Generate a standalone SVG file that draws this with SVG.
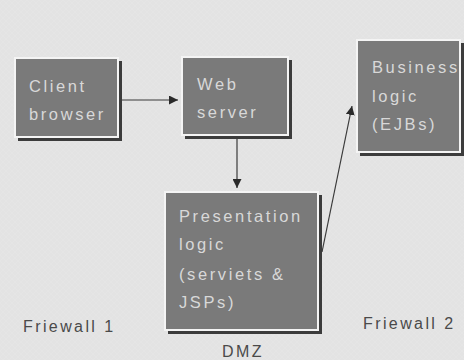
<svg xmlns="http://www.w3.org/2000/svg" width="464" height="360" viewBox="0 0 464 360">
<style>
.bg{fill:#e3e3e3}
.sh{fill:#3c3c3c}
.box{fill:#7a7a7a;stroke:#f4f4f4;stroke-width:2}
.bt{font-family:"Liberation Sans",Arial,sans-serif;font-size:16.5px;letter-spacing:2.6px;fill:#d8d8d8}
.lbl{font-family:"Liberation Sans",Arial,sans-serif;font-size:16px;letter-spacing:2.4px;fill:#4a4a4a}
.cn{stroke:#3a3a3a;stroke-width:1.2;fill:none}
</style>
<defs>
<marker id="ah" viewBox="0 0 10 10" refX="10" refY="5" markerWidth="9" markerHeight="9" markerUnits="userSpaceOnUse" orient="auto">
<path d="M0,0 L10,5 L0,10 z" fill="#2a2a2a"/>
</marker>
<pattern id="tex" width="6" height="6" patternUnits="userSpaceOnUse">
<path d="M0,3 L3,0 L6,3 L3,6 z" fill="none" stroke="#ffffff" stroke-opacity="0.07" stroke-width="1"/>
</pattern>
</defs>
<rect class="bg" x="0" y="0" width="464" height="360"/>
<rect x="0" y="0" width="464" height="360" fill="url(#tex)"/>
<g id="connectors">
<line class="cn" x1="121" y1="100" x2="178" y2="100" marker-end="url(#ah)"/>
<line class="cn" x1="237" y1="138" x2="237" y2="188" marker-end="url(#ah)"/>
<line class="cn" x1="322" y1="252" x2="352" y2="106" marker-end="url(#ah)"/>
</g>
<g id="client">
<rect class="sh" x="18" y="61" width="104" height="80"/>
<rect class="box" x="15" y="58" width="103" height="79"/>
<text class="bt" x="29" y="92">Client</text>
<text class="bt" x="29" y="120">browser</text>
</g>
<g id="web">
<rect class="sh" x="185" y="60" width="107" height="79"/>
<rect class="box" x="182" y="57" width="106" height="78"/>
<text class="bt" x="197" y="90">Web</text>
<text class="bt" x="197" y="118">server</text>
</g>
<g id="business">
<rect class="sh" x="360" y="43" width="104" height="113"/>
<rect class="box" x="357" y="40" width="103" height="112"/>
<text class="bt" x="372" y="73">Business</text>
<text class="bt" x="372" y="102">logic</text>
<text class="bt" x="372" y="130">(EJBs)</text>
</g>
<g id="presentation">
<rect class="sh" x="168" y="195" width="154" height="139"/>
<rect class="box" x="165" y="192" width="153" height="138"/>
<text class="bt" x="179" y="222">Presentation</text>
<text class="bt" x="179" y="250">logic</text>
<text class="bt" x="179" y="280">(serviets &amp;</text>
<text class="bt" x="179" y="308">JSPs)</text>
</g>
<g id="labels">
<text class="lbl" x="23" y="332">Friewall 1</text>
<text class="lbl" x="363" y="329">Friewall 2</text>
<text class="lbl" x="222" y="357">DMZ</text>
</g>
</svg>
